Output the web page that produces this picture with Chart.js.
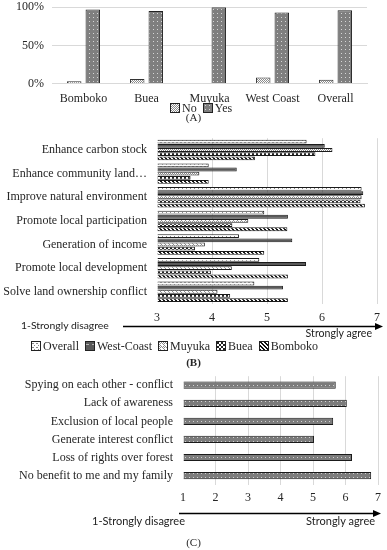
<!DOCTYPE html>
<html>
<head>
<meta charset="utf-8">
<script src="https://cdn.jsdelivr.net/npm/chart.js@4.4.1/dist/chart.umd.min.js"></script>
<style>
  body { margin: 0; width: 387px; height: 550px; position: relative; background: #fff; overflow: hidden;
         font-family: "Liberation Serif", "Times New Roman", serif; color: #262626; }
  .box { position: absolute; left: 0; width: 387px; }
  .note { position: absolute; white-space: nowrap; font-family: Lato, "Open Sans", sans-serif; font-size: 11px; line-height: 13px; color: #222; }
  .cap { position: absolute; width: 387px; left: 0; text-align: center; font-size: 11px; line-height: 13px; }
  .legend { position: absolute; display: flex; gap: 6px; font-size: 12px; line-height: 14px; }
  .legend span { display: flex; align-items: center; gap: 2px; }
  .legend canvas { width: 8px; height: 8px; border: 1px solid #222; }
  svg { position: absolute; overflow: visible; }
</style>
</head>
<body>

<div class="box" style="top:-8.5px;height:122px"><canvas id="chartA"></canvas></div>
<div class="legend" id="legendA" style="top:101px;left:170px"></div>
<div class="cap" style="top:111px">(A)</div>

<div class="box" style="top:121px;height:211px"><canvas id="chartB"></canvas></div>
<div class="note" style="left:21px;top:319px;font-size:10.4px">1-Strongly disagree</div>
<svg style="left:0;top:0" width="387" height="550">
  <line x1="123" y1="326.5" x2="377" y2="326.5" stroke="#000" stroke-width="1.5"/>
  <polygon points="383,326.5 375,323 375,330" fill="#000"/>
  <line x1="179" y1="513.5" x2="375" y2="513.5" stroke="#000" stroke-width="1.5"/>
  <polygon points="381,513.5 373,510 373,517" fill="#000"/>
</svg>
<div class="note" style="right:15px;top:327px;font-size:10.6px">Strongly agree</div>
<div class="legend" id="legendB" style="top:339px;left:31px"></div>
<div class="cap" style="top:356px;font-weight:bold">(B)</div>

<div class="box" style="top:358.5px;height:152px"><canvas id="chartC"></canvas></div>
<div class="note" style="left:92px;top:514px">1-Strongly disagree</div>
<div class="note" style="right:12px;top:514px">Strongly agree</div>
<div class="cap" style="top:536px">(C)</div>

<script>
// (A) share of respondents by site
const regions = ['Bomboko', 'Buea', 'Muyuka', 'West Coast', 'Overall'];
const noPct = [3, 6, 0, 8, 5];
const yesPct = [97, 95, 100, 93, 96];
const pctTicks = [0, 50, 100];

// (B) perceived benefits, mean score per site
const benefits = ['Enhance carbon stock', 'Enhance community land…', 'Improve natural environment',
  'Promote local participation', 'Generation of income', 'Promote local development',
  'Solve land ownership conflict'];
const overallB   = [5.72, 3.94, 6.72, 4.95, 4.49, 4.86, 4.77];
const westCoastB = [6.05, 4.45, 6.75, 5.38, 5.46, 5.71, 5.29];
const muyukaB    = [6.19, 3.77, 6.72, 4.66, 3.87, 4.36, 4.10];
const bueaB      = [5.88, 3.61, 6.70, 4.37, 3.69, 3.98, 4.33];
const bombokoB   = [4.78, 3.94, 6.78, 5.37, 4.95, 5.38, 5.38];
const scoreTicksB = [3, 4, 5, 6, 7];

// (C) concerns, mean score
const concerns = ['Spying on each other - conflict', 'Lack of awareness', 'Exclusion of local people',
  'Generate interest conflict', 'Loss of rights over forest', 'No benefit to me and my family'];
const concernScores = [5.70, 6.04, 5.62, 5.03, 6.20, 6.79];
const scoreTicksC = [1, 2, 3, 4, 5, 6, 7];

const serif = '"Liberation Serif", "Times New Roman", serif';
const gridGrey = '#d9d9d9';

// little tiled fills that stand in for the Excel hatch patterns
function tile(size, bg, paint) {
  const c = document.createElement('canvas');
  c.width = size; c.height = size;
  const g = c.getContext('2d');
  g.fillStyle = bg;
  g.fillRect(0, 0, size, size);
  paint(g);
  return c;
}
function px(g, color, pts) {
  g.fillStyle = color;
  pts.forEach(p => g.fillRect(p[0], p[1], 1, 1));
}

const tiles = {
  no: tile(2, '#ffffff', g => px(g, '#8c8c8c', [[0, 0], [1, 1]])),
  yes: tile(4, '#7f7f7f', g => px(g, '#d6d6d6', [[1, 1]])),
  overall: tile(4, '#ffffff', g => px(g, '#8a8a8a', [[0, 1], [1, 1], [2, 3]])),
  westCoast: tile(6, '#5a5a5a', g => px(g, '#b5b5b5', [[0, 2], [1, 2], [2, 2]])),
  muyuka: tile(4, '#ffffff', g => px(g, '#8a8a8a', [[0, 0], [2, 0], [1, 1], [3, 1], [0, 2], [1, 3]])),
  buea: tile(4, '#ffffff', g => { g.fillStyle = '#222'; g.fillRect(0, 0, 2, 2); g.fillRect(2, 2, 2, 2); }),
  bomboko: tile(4, '#ffffff', g => px(g, '#111', [[0, 0], [1, 0], [1, 1], [2, 1], [2, 2], [3, 2], [3, 3], [0, 3]])),
  concern: tile(4, '#7c7c7c', g => px(g, '#d2d2d2', [[1, 2]]))
};
function fill(name) {
  return document.createElement('canvas').getContext('2d').createPattern(tiles[name], 'repeat');
}

function legend(id, items) {
  const el = document.getElementById(id);
  items.forEach(it => {
    const s = document.createElement('span');
    const c = document.createElement('canvas');
    c.width = 8; c.height = 8;
    const g = c.getContext('2d');
    g.fillStyle = fill(it[1]);
    g.fillRect(0, 0, 8, 8);
    s.appendChild(c);
    s.appendChild(document.createTextNode(it[0]));
    el.appendChild(s);
  });
}

const tickFont = { family: serif, size: 12 };
const base = {
  responsive: true,
  maintainAspectRatio: false,
  animation: false,
  plugins: { legend: { display: false }, tooltip: { enabled: false } }
};

new Chart(document.getElementById('chartA'), {
  type: 'bar',
  data: {
    labels: regions,
    datasets: [
      { label: 'No', data: noPct, backgroundColor: fill('no'), borderColor: '#333', borderWidth: 1 },
      { label: 'Yes', data: yesPct, backgroundColor: fill('yes'), borderColor: '#222', borderWidth: 1 }
    ]
  },
  options: {
    ...base,
    layout: { padding: { top: 0, right: 20, bottom: 0, left: 0 } },
    datasets: { bar: { categoryPercentage: 0.59, barPercentage: 0.78 } },
    scales: {
      x: {
        grid: { display: false, drawTicks: false },
        border: { color: gridGrey },
        ticks: { color: '#262626', font: tickFont, padding: 8, autoSkip: false, maxRotation: 0 }
      },
      y: {
        min: 0,
        max: 100,
        afterBuildTicks: s => { s.ticks = pctTicks.map(v => ({ value: v })); },
        afterFit: s => { s.width = 52; },
        grid: { color: gridGrey, drawTicks: false },
        border: { display: false },
        ticks: { color: '#262626', font: tickFont, padding: 8, callback: v => v + '%' }
      }
    }
  }
});
legend('legendA', [['No', 'no'], ['Yes', 'yes']]);

new Chart(document.getElementById('chartB'), {
  type: 'bar',
  data: {
    labels: benefits,
    datasets: [
      { label: 'Overall', data: overallB, backgroundColor: fill('overall') },
      { label: 'West-Coast', data: westCoastB, backgroundColor: fill('westCoast') },
      { label: 'Muyuka', data: muyukaB, backgroundColor: fill('muyuka') },
      { label: 'Buea', data: bueaB, backgroundColor: fill('buea') },
      { label: 'Bomboko', data: bombokoB, backgroundColor: fill('bomboko') }
    ]
  },
  options: {
    ...base,
    indexAxis: 'y',
    layout: { padding: { top: 0, right: 9, bottom: 0, left: 0 } },
    datasets: { bar: { categoryPercentage: 0.88, barPercentage: 0.92, borderColor: '#1a1a1a', borderWidth: 1, base: 3 } },
    scales: {
      x: {
        min: 3,
        max: 7,
        afterBuildTicks: s => { s.ticks = scoreTicksB.map(v => ({ value: v })); },
        grid: { color: c => c.tick && c.tick.value === 3 ? 'rgba(0,0,0,0)' : gridGrey, drawTicks: false },
        border: { display: false },
        ticks: { color: '#262626', font: tickFont, padding: 7 }
      },
      y: {
        afterFit: s => { s.width = 157; },
        grid: { display: false, drawTicks: false },
        border: { display: false },
        ticks: { color: '#262626', font: tickFont, padding: 10, autoSkip: false }
      }
    }
  }
});
legend('legendB', [['Overall', 'overall'], ['West-Coast', 'westCoast'], ['Muyuka', 'muyuka'],
  ['Buea', 'buea'], ['Bomboko', 'bomboko']]);

new Chart(document.getElementById('chartC'), {
  type: 'bar',
  data: {
    labels: concerns,
    datasets: [
      { label: 'Score', data: concernScores, backgroundColor: fill('concern'), borderColor: '#1a1a1a', borderWidth: 1 }
    ]
  },
  options: {
    ...base,
    indexAxis: 'y',
    layout: { padding: { top: 0, right: 8, bottom: 0, left: 0 } },
    datasets: { bar: { categoryPercentage: 0.8, barPercentage: 0.5, base: 1 } },
    scales: {
      x: {
        min: 1,
        max: 7,
        afterBuildTicks: s => { s.ticks = scoreTicksC.map(v => ({ value: v })); },
        grid: { color: c => c.tick && c.tick.value === 1 ? 'rgba(0,0,0,0)' : gridGrey, drawTicks: false },
        border: { display: false },
        ticks: { color: '#262626', font: tickFont, padding: 6 }
      },
      y: {
        afterFit: s => { s.width = 183; },
        grid: { display: false, drawTicks: false },
        border: { display: false },
        ticks: { color: '#262626', font: tickFont, padding: 10, autoSkip: false }
      }
    }
  }
});
</script>
</body>
</html>
